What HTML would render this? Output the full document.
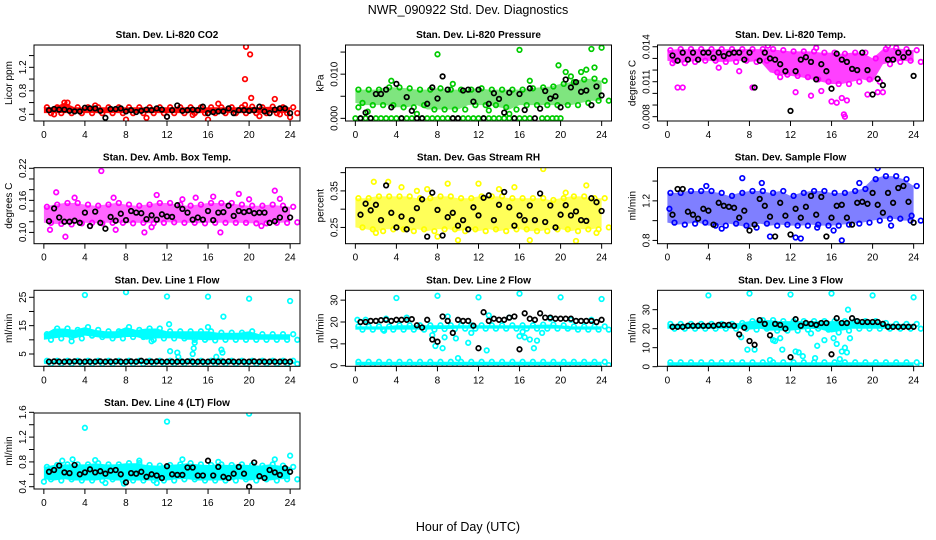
<!DOCTYPE html>
<html><head><meta charset="utf-8"><title>NWR_090922 Std. Dev. Diagnostics</title>
<style>
html,body{margin:0;padding:0;background:#fff;}
svg{display:block;font-family:"Liberation Sans",sans-serif;}
</style></head>
<body>
<svg id="chart" width="936" height="540" viewBox="0 0 936 540">
<text x="468" y="14" text-anchor="middle" font-size="12.5">NWR_090922  Std. Dev. Diagnostics</text>
<text x="468" y="531" text-anchor="middle" font-size="12.5">Hour of Day (UTC)</text>
</svg>
<script>
const xTicks = [0,4,8,12,16,20,24];
const blkHours = [0.5,1,1.5,2,2.5,3,3.5,4,4.5,5,5.5,6,6.5,7,7.5,8,8.5,9,9.5,10,10.5,11,11.5,12,12.5,13,13.5,14,14.5,15,15.5,16,16.5,17,17.5,18,18.5,19,19.5,20,20.5,21,21.5,22,22.5,23,23.5,24];
const bandHours = [0,1,2,3,4,5,6,7,8,9,10,11,12,13,14,15,16,17,18,19,20,21,22,23,24];

// Panel 1: CO2
const p1Lo = [0.42,0.42,0.42,0.42,0.42,0.42,0.42,0.42,0.42,0.42,0.42,0.42,0.42,0.42,0.42,0.42,0.42,0.42,0.42,0.42,0.42,0.42,0.42,0.42,0.42];
const p1Hi = [0.52,0.52,0.6,0.52,0.52,0.52,0.52,0.52,0.52,0.52,0.52,0.52,0.52,0.52,0.52,0.52,0.52,0.52,0.52,0.52,0.53,0.52,0.53,0.52,0.52];
const p1OutX = [19.7,20.1,19.6,20.2,22.5,8,10,16,24,17,12,2,19.6,1,5,14.5,21,23];
const p1OutY = [1.55,1.42,1.0,0.68,0.66,0.31,0.34,0.31,0.35,0.58,0.36,0.6,0.56,0.4,0.55,0.39,0.37,0.4];
const p1Blk = [0.47,0.49,0.48,0.48,0.46,0.45,0.45,0.51,0.5,0.5,0.46,0.34,0.49,0.49,0.5,0.45,0.47,0.44,0.46,0.48,0.47,0.5,0.48,0.36,0.47,0.55,0.46,0.47,0.48,0.47,0.53,0.42,0.44,0.45,0.45,0.5,0.42,0.47,0.47,0.46,0.47,0.53,0.45,0.42,0.48,0.5,0.5,0.42];

// Panel 2: Pressure
const p2Lo = [0.0035,0.003,0.003,0.003,0.0025,0.0025,0.003,0.002,0.002,0.002,0.002,0.003,0.003,0.003,0.0025,0.002,0.003,0.003,0.003,0.003,0.003,0.003,0.0035,0.004,0.004];
const p2Hi = [0.0065,0.0065,0.0065,0.007,0.007,0.0068,0.0065,0.0065,0.0068,0.0065,0.0065,0.0065,0.0068,0.0065,0.0065,0.0065,0.0065,0.0068,0.007,0.0072,0.0078,0.0082,0.0088,0.009,0.0085];
const p2ZeroX = [0,0.5,1,1.5,2,2.5,3,3.5,4,4.5,5,5.5,6,6.5,7,7.5,8,8.5,9,9.5,10,10.5,11,11.5,12,12.5,13,13.5,14,14.5,15,15.5,16,16.5,17,18.2,18.7,19.2,19.6,20];
const p2OutX = [8,16,23,24,19.8,20.5,22.5,23.3,17,3.5,0.3,6,15,1.2,9.5,13,21,22];
const p2OutY = [0.0145,0.0155,0.0157,0.016,0.012,0.0105,0.011,0.0115,0.0085,0.0085,0.0025,0.001,0.001,0.0015,0.0078,0.0018,0.0095,0.0105];
const p2Blk = [0,0.0013,0,0.0055,0.0055,0.0065,0.0025,0.0078,0,0.0048,0.0017,0,0,0.0033,0.007,0.0045,0.0095,0.0065,0,0,0.0063,0.0065,0.0038,0.0065,0,0.0033,0.0057,0.0044,0.0013,0.0058,0,0.0055,0.0019,0.0068,0,0.0022,0.0062,0.0045,0.005,0.0025,0.0088,0.007,0.0082,0.006,0.0063,0.003,0.0072,0.0052];

// Panel 3: Li-820 Temp
const p3Lo = [0.0128,0.0126,0.0127,0.0128,0.0128,0.0127,0.0127,0.0128,0.0127,0.0128,0.0118,0.0116,0.0115,0.0114,0.0112,0.011,0.0108,0.0108,0.011,0.0112,0.011,0.0125,0.0127,0.0128,0.0127];
const p3Hi = [0.0137,0.0138,0.0138,0.0138,0.0138,0.0138,0.0138,0.0138,0.0138,0.0138,0.0138,0.0137,0.0136,0.0136,0.0136,0.0135,0.0135,0.0134,0.0135,0.0135,0.013,0.0138,0.0139,0.0138,0.0137];
const p3OutX = [1,1.5,8.3,12.5,14,15,16,16.5,17,17.5,17.2,17.3,19.5,20.5,21,9.8,14.5,21.5,0.5,5,7,11];
const p3OutY = [0.0105,0.0105,0.0105,0.0101,0.0098,0.0102,0.0093,0.0092,0.0096,0.0094,0.0082,0.008,0.0099,0.0101,0.0101,0.0141,0.0139,0.0141,0.0126,0.0122,0.0119,0.0114];
const p3Blk = [0.01325,0.0128,0.0135,0.0129,0.0135,0.0129,0.0135,0.0135,0.01305,0.0135,0.0132,0.0134,0.0135,0.0135,0.0129,0.0135,0.0105,0.0128,0.0135,0.013,0.0129,0.0125,0.0119,0.0085,0.0119,0.0129,0.0131,0.0127,0.0112,0.0125,0.0119,0.0104,0.0134,0.0129,0.0127,0.0121,0.012,0.0135,0.012,0.0099,0.01125,0.0107,0.0129,0.0129,0.0135,0.0131,0.0135,0.0115];

// Panel 4: Amb Box Temp
const p4Lo = [0.118,0.116,0.115,0.117,0.118,0.117,0.118,0.118,0.117,0.118,0.117,0.118,0.119,0.118,0.118,0.117,0.118,0.118,0.118,0.118,0.117,0.117,0.118,0.118,0.119];
const p4Hi = [0.148,0.152,0.155,0.155,0.152,0.15,0.152,0.155,0.152,0.15,0.152,0.155,0.155,0.152,0.15,0.152,0.155,0.155,0.155,0.152,0.15,0.15,0.152,0.15,0.148];
const p4OutX = [5.6,1.2,11,16.5,19,22.5,2.1,9.8,17.2,7,0.6,4.5,3,10.5,13.5,20,23,6.8,14.8,21.2];
const p4OutY = [0.215,0.175,0.17,0.167,0.172,0.178,0.092,0.1,0.1,0.105,0.105,0.112,0.165,0.11,0.162,0.162,0.163,0.165,0.165,0.112];
const p4Blk = [0.121,0.145,0.128,0.12,0.12,0.122,0.118,0.137,0.112,0.139,0.118,0.107,0.129,0.122,0.135,0.123,0.14,0.137,0.136,0.125,0.132,0.124,0.134,0.13,0.129,0.151,0.144,0.137,0.124,0.128,0.124,0.14,0.123,0.137,0.138,0.15,0.131,0.14,0.138,0.14,0.136,0.137,0.137,0.118,0.121,0.128,0.143,0.128];

// Panel 5: Gas Stream RH
const p5Lo = [0.25,0.245,0.24,0.245,0.245,0.24,0.245,0.24,0.245,0.245,0.24,0.245,0.24,0.245,0.24,0.245,0.245,0.24,0.24,0.245,0.245,0.24,0.245,0.245,0.25];
const p5Hi = [0.33,0.33,0.335,0.335,0.335,0.335,0.33,0.33,0.335,0.335,0.33,0.33,0.335,0.335,0.335,0.33,0.33,0.33,0.33,0.325,0.33,0.335,0.335,0.33,0.33];
const p5OutX = [18.3,1.8,3.2,9,22.5,4.5,15.5,12,10,17,21.5,8,2,7,14,20.5,6,23.5];
const p5OutY = [0.41,0.375,0.375,0.37,0.365,0.36,0.36,0.37,0.215,0.215,0.213,0.225,0.235,0.355,0.355,0.345,0.35,0.235];
const p5Blk = [0.285,0.315,0.297,0.312,0.27,0.365,0.29,0.25,0.28,0.245,0.27,0.303,0.327,0.225,0.345,0.298,0.228,0.278,0.29,0.255,0.27,0.245,0.305,0.283,0.331,0.338,0.27,0.312,0.347,0.305,0.255,0.283,0.27,0.31,0.27,0.343,0.265,0.31,0.25,0.285,0.311,0.283,0.294,0.27,0.268,0.33,0.319,0.295];

// Panel 6: Sample Flow
const p6Lo = [0.98,0.96,0.97,0.98,0.95,0.95,0.97,0.95,0.93,0.97,0.95,0.96,0.95,0.95,0.96,0.95,0.95,0.96,0.97,0.98,1.0,1.02,1.02,1.0,1.0];
const p6Hi = [1.28,1.28,1.3,1.3,1.3,1.28,1.25,1.28,1.3,1.3,1.28,1.3,1.25,1.28,1.3,1.3,1.28,1.28,1.3,1.32,1.42,1.45,1.45,1.42,1.35];
const p6OutX = [7.3,20.5,17,12.5,13,10,5.3,14.6,16.2,9.2,18.7,3.8,0.2,21.8,23.8];
const p6OutY = [1.43,1.53,0.8,0.83,0.82,0.84,0.92,0.93,0.9,1.38,1.38,1.35,1.12,0.95,1.05];
const p6Blk = [1.06,1.32,1.32,1.09,1.06,1.02,1.12,1.1,0.96,1.18,1.15,1.14,1.13,1.03,1.1,0.9,0.96,1.22,1.15,1.04,0.84,1.18,1.05,0.86,1.12,1.03,1.14,1.25,1.06,1.24,0.84,1.03,1.15,1.16,1.03,0.96,1.18,1.19,1.17,1.28,1.16,1.08,1.28,1.18,1.33,1.35,1.19,0.98];

// Panel 7: Line 1 Flow
const p7Lo = [10,10.5,11,10.5,11.5,11,10.5,10.5,11,11,10,10.5,10.5,10.5,10,10,9.8,10,10,10,10,10,10,10,10];
const p7Hi = [12,14,14,13.5,14.5,13.5,13,13,14.5,13.5,14,14,13,13,13,13,13,12.5,12.5,12.5,13,12,12,12,12];
const p7Lo2 = [1.5,1.5,1.5,1.5,1.5,1.5,1.5,1.5,1.5,1.5,1.5,1.5,1.5,1.5,1.5,1.5,1.5,1.5,1.5,1.5,1.5,1.5,1.5,1.5,1.5];
const p7Hi2 = [2.6,2.6,2.6,2.6,2.6,2.6,2.6,2.6,2.6,2.6,2.6,2.6,2.6,2.6,2.6,2.6,2.6,2.6,2.6,2.6,2.6,2.6,2.6,2.6,2.6];
const p7OutX = [4,8,12,16,20,24,17.5,12.2,16,12.3,13,13.1,14.5,14.6,17.3,17.4,16.8,14.7,10.5,2.7];
const p7OutY = [25.8,26.8,25.3,25.2,24.5,23.7,18.2,15.5,14.5,6,5.5,4,5,7,6.5,5.5,4,9,9.5,9.5];
const p7Blk = [2.3,2.4,2.3,2.3,2.3,2.4,2.3,2.3,2.3,2.3,2.4,2.3,2.3,2.4,2.3,2.3,2.4,2.3,2.6,2.3,2.3,2.4,2.3,2.3,2.3,2.3,2.3,2.4,2.3,2.3,2.3,2.3,2.4,2.3,2.3,2.4,2.3,2.3,2.3,2.3,2.4,2.3,2.3,2.3,2.3,2.3,2.3,2.3];

// Panel 8: Line 2 Flow
const p8Lo = [16.5,16.5,16.5,16.5,16.5,16.5,16.5,16.5,16.8,16.8,17,17,17,17,17,17,17,17,17,17,17,16.5,16.5,16.5,16.5];
const p8Hi = [18,18,18,18,18.5,18.5,18.5,18.5,18.5,18.5,18.5,18.5,18.5,18.5,18.5,18.5,18.5,18.5,18.8,18.8,18.5,18,18,18,18];
const p8Lo2 = [0.3,0.3,0.3,0.3,0.3,0.3,0.3,0.3,0.3,0.3,0.3,0.3,0.3,0.3,0.3,0.3,0.3,0.3,0.3,0.3,0.3,0.3,0.3,0.3,0.3];
const p8Hi2 = [1.8,1.8,1.8,1.8,1.8,1.8,1.8,1.8,1.8,1.8,1.8,1.8,1.8,1.8,1.8,1.8,1.8,1.8,1.8,1.8,1.8,1.8,1.8,1.8,1.8];
const p8OutX = [4,8,12,16,20,24,7.5,7.8,8.5,8.7,9.8,10,11,11.3,12.8,16,16.3,16.5,17,17.4,17.7,18.2,2.8,0.2,1,3,5,9,13,15,19,21,23];
const p8OutY = [31,32,31.3,33,31.3,30.5,14,9,8,13,12.5,3.5,10.5,15,7,13.5,15.5,13,12,8,11.5,15,16,21,21,21.5,22,22.5,23,22,21.5,21,21];
const p8Blk = [20,20,20.5,20.5,20.8,21,20.5,21,21,21,21.3,18.5,17.5,21,12,11,22.5,20.5,15,21,20.5,20.5,18.3,8,24.5,20.5,21.5,21,21,22,22.5,7.5,24,21.5,21,24,22,22,21.5,21.5,21.5,21.5,20.5,20.5,20.5,20.5,20,21];

// Panel 9: Line 3 Flow
const p9Lo = [20,20,20,20,20,20,20,20,19.5,20,19,19,19,19.5,20,19.5,18,19,20,20,20,20,20,20,20];
const p9Hi = [22.5,22.5,22.5,22.5,22.5,22.5,22.5,23,24,24.5,24.5,24,24,24,24,24,24,24,24,24,24,23,22.5,22.5,22.5];
const p9Lo2 = [0.6,0.6,0.6,0.6,0.6,0.6,0.6,0.6,0.6,0.6,0.6,0.6,0.6,0.6,0.6,0.6,0.6,0.6,0.6,0.6,0.6,0.6,0.6,0.6,0.6];
const p9Hi2 = [2.3,2.3,2.3,2.3,2.3,2.3,2.3,2.3,2.3,2.3,2.3,2.3,2.3,2.3,2.3,2.3,2.3,2.3,2.3,2.3,2.3,2.3,2.3,2.3,2.3];
const p9OutX = [4,8,12,16,20,24,7.8,8.5,10,10.3,10.5,11,11.2,12.5,12.8,13.2,14,14.4,14.6,15.3,16.2,16.5,17,17.3,17.5,17.6,17.8,16.8,7.2];
const p9OutY = [37.5,38.5,38,38.5,37.5,36.5,9,9,3.5,14,13.5,15,9,8,7.5,5.5,17.5,4.5,11,14,15,12,8,10,7.5,30,15,4,15.5];
const p9Blk = [21,21,21,21.5,21.5,21.5,21.5,21.5,21.5,22,22,22,21.5,17,20.5,13.5,11.5,24.5,22.5,16.5,22.5,22,20,5,25,21.5,23,22.5,22,23,23,6.5,25.5,23,23,25.5,24,23.5,23.5,23.5,23.5,22.5,21,21,21,21,21,21];

// Panel 10: Line 4 (LT) Flow
const p10Lo = [0.52,0.5,0.52,0.5,0.5,0.5,0.52,0.5,0.5,0.5,0.5,0.5,0.5,0.52,0.52,0.5,0.5,0.5,0.5,0.52,0.5,0.52,0.5,0.52,0.52];
const p10Hi = [0.72,0.75,0.76,0.76,0.76,0.78,0.76,0.76,0.78,0.78,0.75,0.74,0.75,0.76,0.78,0.76,0.75,0.76,0.75,0.76,0.75,0.74,0.76,0.74,0.72];
const p10OutX = [4,12,20,24,0,7.8,11,1.8,2.8,5,9.3,13.5,17,22.5,6];
const p10OutY = [1.35,1.45,1.58,0.9,0.48,0.45,0.46,0.82,0.84,0.83,0.82,0.84,0.8,0.84,0.46];
const p10Blk = [0.64,0.67,0.74,0.63,0.62,0.75,0.6,0.63,0.68,0.63,0.65,0.61,0.66,0.67,0.6,0.47,0.62,0.61,0.64,0.56,0.6,0.58,0.54,0.73,0.6,0.59,0.59,0.71,0.71,0.58,0.58,0.82,0.58,0.72,0.56,0.54,0.61,0.72,0.61,0.4,0.79,0.57,0.54,0.67,0.63,0.59,0.7,0.64];

const NS = 'http://www.w3.org/2000/svg';
const svg = document.getElementById('chart');
const colLeft = [34, 345.5, 657.5];
const rowTop = [45, 167.7, 290.3, 413];
const PW = 266, PH = 76;

function mk(tag, attrs, parent) {
  const e = document.createElementNS(NS, tag);
  for (const k in attrs) e.setAttribute(k, attrs[k]);
  (parent || svg).appendChild(e);
  return e;
}

const panels = [
  {title:'Stan. Dev. Li-820 CO2', ylab:'Licor ppm', col:'#ff0000', r:0,c:0, ymin:0.286, ymax:1.58, ticks:[0.4,0.6,0.8,1.0,1.2,1.4], labels:['0.4','0.8','1.2'], lo:p1Lo, hi:p1Hi, ox:p1OutX, oy:p1OutY, blk:p1Blk, op:0.95},
  {title:'Stan. Dev. Li-820 Pressure', ylab:'kPa', col:'#00cc00', r:0,c:1, ymin:-0.0006, ymax:0.0166, ticks:[0,0.005,0.01,0.015], labels:['0.000','0.010'], lo:p2Lo, hi:p2Hi, ox:p2OutX, oy:p2OutY, blk:p2Blk, zero:p2ZeroX, op:0.5},
  {title:'Stan. Dev. Li-820 Temp.', ylab:'degrees C', col:'#ff00ff', r:0,c:2, ymin:0.00763, ymax:0.01415, ticks:[0.008,0.009,0.010,0.011,0.012,0.013,0.014], labels:['0.008','0.011','0.014'], lo:p3Lo, hi:p3Hi, ox:p3OutX, oy:p3OutY, blk:p3Blk, op:0.75},
  {title:'Stan. Dev. Amb. Box Temp.', ylab:'degrees C', col:'#ff00ff', r:1,c:0, ymin:0.0789, ymax:0.2211, ticks:[0.10,0.12,0.14,0.16,0.18,0.20,0.22], labels:['0.10','0.16','0.22'], lo:p4Lo, hi:p4Hi, ox:p4OutX, oy:p4OutY, blk:p4Blk, op:0.6},
  {title:'Stan. Dev. Gas Stream RH', ylab:'percent', col:'#ffff00', r:1,c:1, ymin:0.2055, ymax:0.4135, ticks:[0.25,0.30,0.35,0.40], labels:['0.25','0.35'], lo:p5Lo, hi:p5Hi, ox:p5OutX, oy:p5OutY, blk:p5Blk, op:0.65},
  {title:'Stan. Dev. Sample Flow', ylab:'ml/min', col:'#0000ff', r:1,c:2, ymin:0.767, ymax:1.535, ticks:[0.8,1.0,1.2,1.4], labels:['0.8','1.2'], lo:p6Lo, hi:p6Hi, ox:p6OutX, oy:p6OutY, blk:p6Blk, op:0.5},
  {title:'Stan. Dev. Line 1 Flow', ylab:'ml/min', col:'#00ffff', r:2,c:0, ymin:0.66, ymax:27.47, ticks:[5,10,15,20,25], labels:['5','15','25'], lo:p7Lo, hi:p7Hi, lo2:p7Lo2, hi2:p7Hi2, ox:p7OutX, oy:p7OutY, blk:p7Blk, op:1},
  {title:'Stan. Dev. Line 2 Flow', ylab:'ml/min', col:'#00ffff', r:2,c:1, ymin:-0.27, ymax:34.5, ticks:[0,10,20,30], labels:['0','10','20','30'], lo:p8Lo, hi:p8Hi, lo2:p8Lo2, hi2:p8Hi2, ox:p8OutX, oy:p8OutY, blk:p8Blk, op:1},
  {title:'Stan. Dev. Line 3 Flow', ylab:'ml/min', col:'#00ffff', r:2,c:2, ymin:0.2, ymax:40.2, ticks:[0,10,20,30], labels:['0','10','20','30'], lo:p9Lo, hi:p9Hi, lo2:p9Lo2, hi2:p9Hi2, ox:p9OutX, oy:p9OutY, blk:p9Blk, op:1},
  {title:'Stan. Dev. Line 4 (LT) Flow', ylab:'ml/min', col:'#00ffff', r:3,c:0, ymin:0.363, ymax:1.589, ticks:[0.4,0.6,0.8,1.0,1.2,1.4,1.6], labels:['0.4','0.8','1.2','1.6'], lo:p10Lo, hi:p10Hi, ox:p10OutX, oy:p10OutY, blk:p10Blk, op:1}
];

panels.forEach((p, idx) => {
  const L = colLeft[p.c], T = rowTop[p.r];
  const xs = h => L + (h + 0.96) / 25.92 * PW;
  const ys = v => T + PH - (v - p.ymin) / (p.ymax - p.ymin) * PH;
  const g = mk('g', {});
  
  
  const clipId = 'clip' + idx;
  const cp = mk('clipPath', {id: clipId}, g);
  mk('rect', {x: L, y: T, width: PW, height: PH}, cp);
  const data = mk('g', {'clip-path': 'url(#' + clipId + ')'}, g);
  
  

  function pt(x, y, col, name) {
    const c = mk('circle', {cx: xs(x).toFixed(1), cy: ys(y).toFixed(1), r: 2.3, fill: 'none', stroke: col, 'stroke-width': 1.7}, data);
    
    
  }
  function band(lo, hi, name) {
    let d = '';
    bandHours.forEach((h, i) => { d += (i ? 'L' : 'M') + xs(h).toFixed(1) + ' ' + ys(hi[i]).toFixed(1); });
    for (let i = bandHours.length - 1; i >= 0; i--) d += 'L' + xs(bandHours[i]).toFixed(1) + ' ' + ys(lo[i]).toFixed(1);
    const path = mk('path', {d: d + 'Z', fill: p.col, 'fill-opacity': p.op, stroke: 'none'}, data);
    
    
    bandHours.forEach((h, i) => {
      pt(h + 0.3, hi[i], p.col, 'band-edge-point');
      pt(h + 0.7, lo[i], p.col, 'band-edge-point');
    });
  }
  band(p.lo, p.hi, 'colored-band');
  if (p.lo2) band(p.lo2, p.hi2, 'colored-band-low');

  if (p.zero) p.zero.forEach(h => pt(h, 0, p.col, 'zero-point'));
  p.ox.forEach((h, i) => pt(h, p.oy[i], p.col, 'colored-point'));
  p.blk.forEach((v, i) => pt(blkHours[i], v, '#000', 'black-point'));

  const box = mk('rect', {x: L, y: T, width: PW, height: PH, fill: 'none', stroke: '#000', 'stroke-width': 1}, g);
  
  

  const tt = mk('text', {x: L + PW / 2, y: T - 7, 'text-anchor': 'middle', 'font-size': 10, 'font-weight': 'bold'}, g);
  tt.textContent = p.title;
  
  

  xTicks.forEach(h => {
    const x = xs(h);
    mk('line', {x1: x, x2: x, y1: T + PH, y2: T + PH + 5, stroke: '#000'}, g);
    const t = mk('text', {x: x, y: T + PH + 17, 'text-anchor': 'middle', 'font-size': 10}, g);
    t.textContent = h;
    
    
  });
  mk('line', {x1: xs(0), x2: xs(24), y1: T + PH, y2: T + PH, stroke: '#000'}, g);

  p.ticks.forEach(v => {
    const y = ys(v);
    mk('line', {x1: L - 5, x2: L, y1: y, y2: y, stroke: '#000'}, g);
  });
  p.labels.forEach(s => {
    const y = ys(parseFloat(s));
    const t = mk('text', {x: 0, y: 0, 'text-anchor': 'middle', 'font-size': 10, transform: 'translate(' + (L - 8) + ',' + y.toFixed(1) + ') rotate(-90)'}, g);
    t.textContent = s;
    
    
  });
  const yl = mk('text', {x: 0, y: 0, 'text-anchor': 'middle', 'font-size': 10, transform: 'translate(' + (L - 22) + ',' + (T + PH / 2) + ') rotate(-90)'}, g);
  yl.textContent = p.ylab;
  
  
});
</script>
</body></html>
